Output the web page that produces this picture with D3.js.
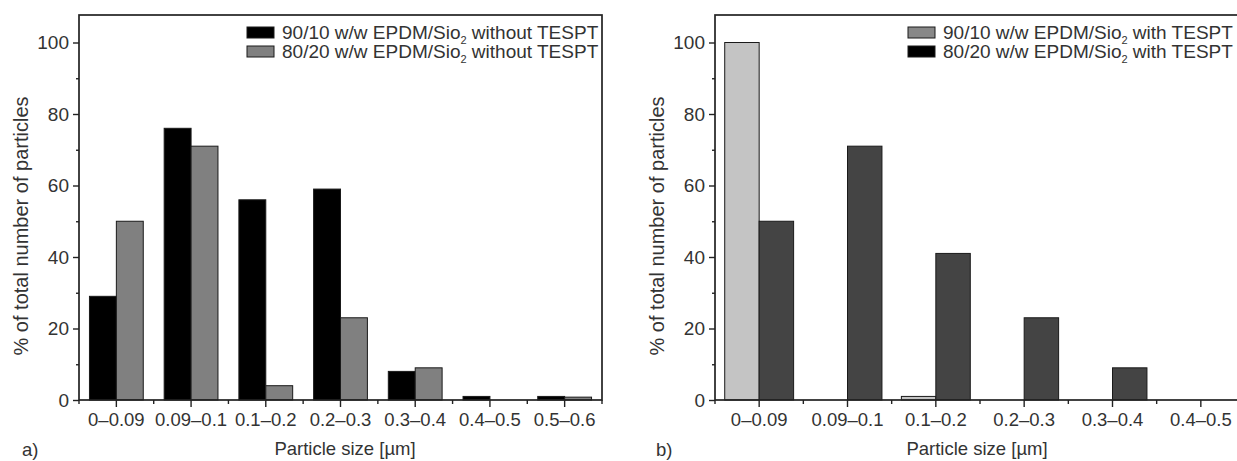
<!DOCTYPE html>
<html>
<head>
<meta charset="utf-8">
<script src="https://cdn.jsdelivr.net/npm/d3@7/dist/d3.min.js"></script>
<style>
  html, body { margin: 0; padding: 0; background: #fff; }
  svg text { font-family: "Liberation Sans", Arial, sans-serif; fill: #333; }
</style>
</head>
<body>
<svg id="chart" width="1237" height="461"></svg>
<script>
// ---- data ----
const categoriesA = ["0–0.09", "0.09–0.1", "0.1–0.2", "0.2–0.3", "0.3–0.4", "0.4–0.5", "0.5–0.6"];
const seriesA9010 = [29, 76, 56, 59, 8, 1, 1];
const seriesA8020 = [50, 71, 4, 23, 9, 0, 0.8];
const categoriesB = ["0–0.09", "0.09–0.1", "0.1–0.2", "0.2–0.3", "0.3–0.4", "0.4–0.5"];
const seriesB9010 = [100, 0, 1, 0, 0, 0];
const seriesB8020 = [50, 71, 41, 23, 9, 0];
const yTicks = [0, 20, 40, 60, 80, 100];
const yMinorTicks = [10, 30, 50, 70, 90];
const legendA = ["90/10 w/w EPDM/Sio", "80/20 w/w EPDM/Sio"];
const legendASuffix = " without TESPT";
const legendB = ["90/10 w/w EPDM/Sio", "80/20 w/w EPDM/Sio"];
const legendBSuffix = " with TESPT";
const xTitle = "Particle size [µm]";
const yTitle = "% of total number of particles";

const svg = d3.select("#chart");

function panel(opts) {
  const g = svg.append("g");
  const y = d3.scaleLinear().domain([0, 100]).range([400, 42.5]);
  const x = d3.scaleBand().domain(opts.categories).range([opts.left, opts.right]).padding(0);
  const bw = x.bandwidth() * opts.barFrac;

  // bars
  const s = [opts.s1, opts.s2];
  s.forEach((ser, si) => {
    g.selectAll(null).data(ser.values).enter().append("rect")
      .attr("x", (d, i) => x(opts.categories[i]) + x.bandwidth() / 2 + (si === 0 ? -bw : 0))
      .attr("y", d => y(d))
      .attr("width", bw)
      .attr("height", d => y(0) - y(d))
      .attr("fill", ser.fill)
      .attr("stroke", "#1a1a1a")
      .attr("stroke-width", 1);
  });

  // frame
  g.append("rect")
    .attr("x", opts.left).attr("y", opts.top)
    .attr("width", opts.right - opts.left).attr("height", 400 - opts.top)
    .attr("fill", "none").attr("stroke", "#222").attr("stroke-width", 1.7);

  // y axis
  const yAxis = d3.axisLeft(y).tickValues(yTicks).tickSize(6).tickPadding(4);
  const ya = g.append("g").attr("transform", `translate(${opts.left},0)`).call(yAxis);
  ya.select(".domain").remove();
  ya.selectAll("line").attr("stroke", "#222").attr("stroke-width", 1.4);
  ya.selectAll("text").style("font-size", "19px").style("font-family", "'Liberation Sans', Arial, sans-serif").attr("fill", "#333");
  const yMinor = g.append("g").attr("transform", `translate(${opts.left},0)`)
    .call(d3.axisLeft(y).tickValues(yMinorTicks).tickSize(3).tickFormat(""));
  yMinor.select(".domain").remove();
  yMinor.selectAll("line").attr("stroke", "#222").attr("stroke-width", 1.4);

  // x axis
  const xAxis = d3.axisBottom(x).tickSize(7).tickPadding(6);
  const xa = g.append("g").attr("transform", "translate(0,400)").call(xAxis);
  xa.select(".domain").remove();
  xa.selectAll("line").attr("stroke", "#222").attr("stroke-width", 1.4);
  xa.selectAll("text").style("font-size", "18.5px").style("font-family", "'Liberation Sans', Arial, sans-serif").attr("fill", "#333");
  // minor x ticks at band edges
  const edges = opts.categories.map(c => x(c)).concat([opts.right]);
  g.selectAll(null).data(edges).enter().append("line")
    .attr("x1", d => d).attr("x2", d => d).attr("y1", 400).attr("y2", 404)
    .attr("stroke", "#222").attr("stroke-width", 1.4);

  // titles
  g.append("text").attr("x", opts.xTitleX).attr("y", 455).attr("text-anchor", "middle")
    .style("font-size", "18.5px").text(xTitle);
  g.append("text").attr("transform", `translate(${opts.left - 51},226) rotate(-90)`)
    .attr("text-anchor", "middle").style("font-size", "20px").text(yTitle);
  g.append("text").attr("x", opts.labelX).attr("y", 456).style("font-size", "18.5px").text(opts.label);

  // legend
  opts.legend.forEach((t, i) => {
    const ly = 27 + i * 19;
    g.append("rect").attr("x", opts.legX).attr("y", ly).attr("width", 27).attr("height", 11)
      .attr("fill", opts.legFills[i]).attr("stroke", "#1a1a1a").attr("stroke-width", 1);
    const tx = g.append("text").attr("x", opts.legX + 35).attr("y", ly + 12).style("font-size", "19px");
    tx.append("tspan").text(t);
    tx.append("tspan").attr("dy", 5).style("font-size", "11px").text("2");
    tx.append("tspan").attr("dy", -5).text(opts.legSuffix);
  });
}

panel({
  categories: categoriesA, left: 79, right: 602, top: 15, barFrac: 0.36,
  s1: { values: seriesA9010, fill: "#000" },
  s2: { values: seriesA8020, fill: "#808080" },
  xTitleX: 345, labelX: 22, label: "a)",
  legend: legendA, legSuffix: legendASuffix, legX: 247, legFills: ["#000", "#808080"]
});
panel({
  categories: categoriesB, left: 715, right: 1245, top: 15, barFrac: 0.39,
  s1: { values: seriesB9010, fill: "#c4c4c4" },
  s2: { values: seriesB8020, fill: "#444" },
  xTitleX: 977, labelX: 656, label: "b)",
  legend: legendB, legSuffix: legendBSuffix, legX: 908, legFills: ["#888", "#000"]
});
</script>
</body>
</html>
